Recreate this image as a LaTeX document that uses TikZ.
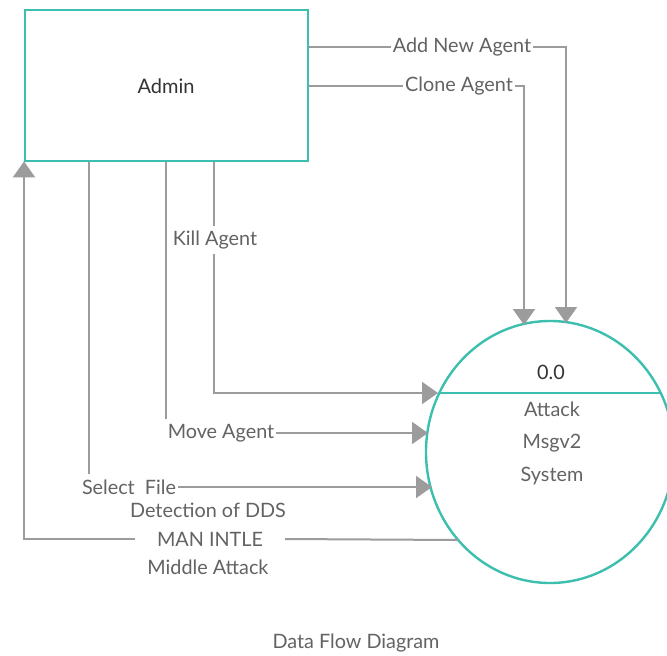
\documentclass[tikz,border=0pt]{standalone}
\usepackage{fontspec}
\setmainfont{Lato}
\usetikzlibrary{arrows.meta,shapes.geometric,calc}
\definecolor{procline}{HTML}{3CBFAE}
\definecolor{flowgray}{HTML}{9C9C9C}
\definecolor{labeltext}{HTML}{636363}
\definecolor{titletext}{HTML}{333333}

\tikzset{
  entitybox/.style={draw=procline, line width=2.4pt, inner sep=0pt},
  procbubble/.style={ellipse, draw=procline, line width=2.4pt, inner sep=0pt},
  flowlabel/.style={text=labeltext, font=\fontsize{19.8}{23}\selectfont, inner sep=2pt},
  flowline/.style={draw=flowgray, line width=2pt},
  flowarrow/.style={flowline, -{Triangle[length=16pt,width=22pt]}, shorten >=-1pt},
}

\begin{document}
\begin{tikzpicture}[x=1pt,y=-1pt]
\useasboundingbox[fill=white] (0,0) rectangle (667,656);

% external entity and process
\node[entitybox, minimum width=283pt, minimum height=151pt, anchor=north west] (admin) at (24,9) {};
\node[text=titletext, font=\fontsize{20}{23}\selectfont] (adminlbl) at (166,86) {Admin};

\node[procbubble, minimum width=248pt, minimum height=262pt] (proc) at (550,452) {};
\coordinate (divL) at (439.3,393);
\coordinate (divR) at (660.7,393);
\draw[procline, line width=2.4pt] (divL) -- (divR);
\node[text=titletext, font=\fontsize{19.8}{23}\selectfont] (procid) at (551,372) {0.0};
\node[flowlabel, align=center, font=\fontsize{19.8}{32.5}\selectfont] (procname) at (552,443)
  {Attack\\Msgv2\\System};

% arrival points on the process border
\coordinate (inAdd)   at (566,322);
\coordinate (inClone) at (524,324);
\coordinate (inKill)  at (437,393);
\coordinate (inMove)  at (427,433);
\coordinate (inSel)   at (431,487);
\coordinate (outMitm) at (458,540);

% flow labels
\node[flowlabel] (addlbl)   at (462,47)  {Add New Agent};
\node[flowlabel] (clonelbl) at (459,86)  {Clone Agent};
\node[flowlabel, inner sep=5pt] (killlbl)  at (215,240) {Kill Agent};
\node[flowlabel] (movelbl)  at (221,433) {Move Agent};
\node[flowlabel] (sellbl)   at (129,487) {Select\ \ File};
\node[flowlabel] (ddslbl)   at (208,510) {Detection of DDS};
\node[flowlabel, inner xsep=22pt] (mitmlbl)  at (210,539) {MAN INTLE};
\node[flowlabel] (midlbl)   at (208,567) {Middle Attack};

% Admin -> process flows
\draw[flowline] (admin.east |- addlbl) -- (addlbl.west);
\draw[flowarrow] (addlbl.east) -| (inAdd);
\draw[flowline] (admin.east |- clonelbl) -- (clonelbl.west);
\draw[flowarrow] (clonelbl.east) -| (inClone);

\draw[flowline] (admin.south -| 214,0) -- (214,0 |- killlbl.north);
\draw[flowarrow] (214,0 |- killlbl.south) |- (inKill);

\coordinate (moveTop) at ($(movelbl.north)+(-55,-3)$);
\draw[flowline] (admin.south -| moveTop) -- (moveTop);
\draw[flowarrow] (movelbl.east) -- (inMove);

\coordinate (selTop) at ($(sellbl.north)+(-40,-3)$);
\draw[flowline] (admin.south -| selTop) -- (selTop);
\draw[flowarrow] (sellbl.east) -- (inSel);

% process -> Admin return flow
\draw[flowline] (outMitm) -- (mitmlbl.east);
\draw[flowarrow] (mitmlbl.west) -| (admin.south west);

% caption
\node[flowlabel] (caption) at (356,643) {Data Flow Diagram};
\end{tikzpicture}
\end{document}
